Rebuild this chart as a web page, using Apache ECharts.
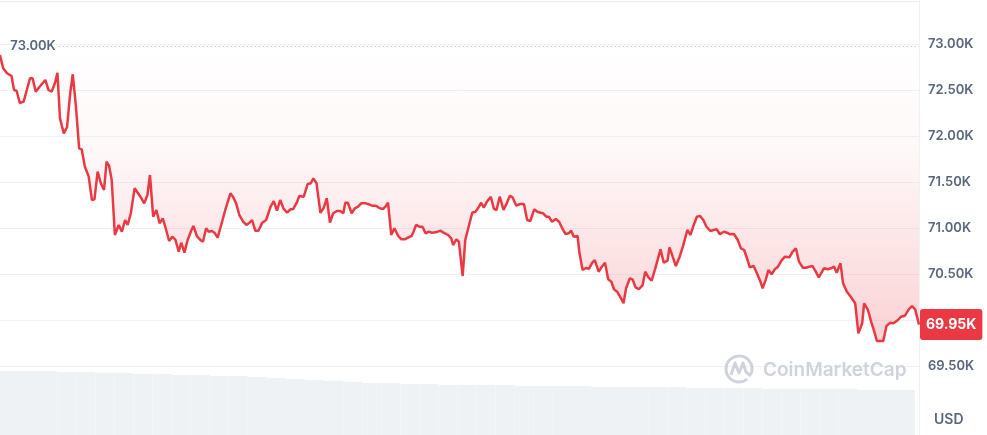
<!DOCTYPE html>
<html>
<head>
<meta charset="utf-8">
<script src="https://cdn.jsdelivr.net/npm/echarts@6/dist/echarts.min.js"></script>
<style>
html,body{margin:0;padding:0;background:#fff;}
#chart{width:987px;height:435px;}
</style>
</head>
<body>
<div id="chart"></div>
<script>
// minutes since start of 24h window
const times = [0,5,11,18,22,26,31,37,42,47,51,56,62,65,71,76,81,86,90,94,100,105,110,114,119,124,128,133,139,144,148,153,158,163,167,171,175,180,
186,191,196,200,205,211,214,220,226,231,235,240,245,250,255,259,265,270,275,280,284,289,294,300,303,309,314,318,323,327,332,336,341,348,353,361,
365,370,375,381,386,391,395,400,405,411,417,424,429,434,439,444,450,455,459,465,469,476,482,487,491,496,502,507,512,517,522,528,533,538,541,
545,551,556,561,566,573,578,583,589,595,600,604,608,613,618,624,629,634,640,645,648,652,657,662,667,672,677,683,690,695,702,707,710,715,719,
725,729,735,740,745,749,754,758,763,769,774,778,783,789,794,799,803,809,815,821,826,831,837,842,847,851,856,860,865,871,876,881,886,891,895,899,905,
908,913,918,923,928,932,938,943,948,953,958,962,967,973,977,981,987,991,996,1001,1007,1011,1016,1021,1026,1035,1040,1046,1049,1054,1059,1065,1070,1077,1082,
1087,1092,1097,1102,1107,1113,1118,1123,1128,1134,1139,1144,1150,1156,1161,1166,1171,1175,1181,1186,1191,1195,1200,1204,1209,1214,1219,1225,1230,1237,1242,1247,1252,1258,1263,
1268,1273,1277,1283,1286,1291,1297,1302,1307,1311,1317,1321,1327,1333,1340,1345,1351,1354,1360,1365,1370,1374,1379,1384,1389,1395,1400,1407,1412,1418,1424,1429,1434,1440];

const prices = [72880,72736,72682,72652,72500,72492,72359,72373,72500,72627,72627,72482,72536,72536,72609,72500,72482,72573,72688,72192,72029,72095,72464,72671,72318,71866,71855,71666,71558,71304,71312,71612,71486,71413,71721,71674,71522,70924,
71033,70960,71087,71033,71160,71432,71413,71340,71268,71359,71576,71123,71196,71051,71105,71014,70859,70905,70870,70742,70840,70732,70870,70978,71022,70905,70870,70851,70997,70960,70967,70949,70895,71068,71196,71377,
71340,71268,71141,71068,71033,71058,71087,70971,70971,71058,71087,71232,71293,71188,71304,71214,71166,71203,71203,71275,71348,71340,71478,71486,71540,71486,71166,71214,71323,71058,71160,71185,71185,71160,71275,
71275,71160,71214,71232,71268,71268,71258,71242,71242,71214,71207,71232,71275,70924,70997,70913,70877,70877,70899,70913,70960,71033,71014,71014,70942,70960,70949,70953,70971,70949,70924,70888,70815,70877,70851,
70478,70870,71033,71166,71177,71214,71275,71221,71286,71340,71207,71196,71340,71196,71268,71351,71334,71242,71261,71261,71087,71076,71203,71177,71166,71160,71123,71123,71068,71098,71068,70997,70935,70942,70971,70905,70913,
70725,70543,70565,70558,70623,70652,70525,70579,70623,70442,70416,70334,70308,70236,70182,70345,70453,70442,70355,70334,70380,70525,70464,70427,70543,70768,70623,70645,70790,70688,70587,70688,70797,70978,70924,
71033,71123,71130,71087,71014,70967,70978,70986,70932,70960,70949,70932,70935,70870,70779,70761,70660,70573,70587,70508,70427,70345,70442,70543,70497,70551,70579,70652,70688,70682,70742,70779,70634,70568,70568,
70579,70587,70543,70464,70471,70562,70551,70562,70579,70514,70616,70399,70308,70253,70182,69855,69964,70182,70109,69982,69873,69772,69772,69772,69935,69971,69964,70000,70036,70047,70116,70152,70116,69950];

// 24h volume (billions USD), one value per 30 minutes
const volume = [32.0,32.0,32.0,31.5,31.5,31.0,31.0,30.5,30.5,30.0,30.0,29.5,29.5,29.0,28.5,28.0,27.5,27.0,26.5,26.0,26.0,25.5,25.5,25.0,25.0,25.0,25.0,24.5,24.5,24.5,24.5,24.0,24.0,24.0,24.0,24.0,23.5,23.5,23.5,23.5,23.0,23.0,23.0,23.0,23.0,22.5,22.5,22.5];
const volumeCats = volume.map((_, i) => i);

const yTicks = [69500, 70000, 70500, 71000, 71500, 72000, 72500, 73000];
const refPrice = 72980;
const refLabel = '73.00K';
const currency = 'USD';
const lastPrice = prices[prices.length - 1];

const fmtK = v => (v / 1000).toFixed(2) + 'K';
const FONT = 'Inter, "Noto Sans", sans-serif';
const RED = '#ea3943';
const GREY_TXT = '#58667e';

const chart = echarts.init(document.getElementById('chart'), null, {renderer: 'canvas'});
chart.setOption({
  animation: false,
  backgroundColor: '#ffffff',
  textStyle: {fontFamily: FONT},
  title: {
    text: currency, left: 934, top: 413, padding: 0,
    textStyle: {color: GREY_TXT, fontSize: 14, fontWeight: 600, fontFamily: FONT}
  },
  grid: [
    {left: 0, right: 68, top: 44, bottom: 69, containLabel: false, outerBoundsMode: 'none'},
    {left: 0, right: 72, top: 370, bottom: 0, containLabel: false, outerBoundsMode: 'none'}
  ],
  xAxis: [
    {type: 'value', gridIndex: 0, min: 0, max: 1440, show: false},
    {type: 'category', gridIndex: 1, data: volumeCats, show: false, boundaryGap: true}
  ],
  yAxis: [
    {
      type: 'value', gridIndex: 0, position: 'right',
      min: yTicks[0], max: yTicks[yTicks.length - 1], interval: 500,
      axisLine: {show: false}, axisTick: {show: false},
      splitLine: {show: true, lineStyle: {color: '#eff2f5', width: 1}},
      axisLabel: {
        margin: 9, color: GREY_TXT, fontSize: 13, fontWeight: 600, fontFamily: FONT,
        formatter: v => (v === 70000 ? '' : fmtK(v))
      }
    },
    {type: 'value', gridIndex: 1, min: 0, max: 32.5, show: false}
  ],
  series: [
    {
      type: 'bar', xAxisIndex: 1, yAxisIndex: 1, data: volume,
      barCategoryGap: '0%', silent: true,
      itemStyle: {color: '#eff2f5'}, z: 1
    },
    {
      type: 'line', xAxisIndex: 0, yAxisIndex: 0,
      data: times.map((t, i) => [t, prices[i]]),
      showSymbol: false, symbol: 'none', smooth: false,
      lineStyle: {color: RED, width: 2.5},
      areaStyle: {
        origin: refPrice,
        color: new echarts.graphic.LinearGradient(0, 0, 0, 1, [
          {offset: 0, color: 'rgba(234,57,67,0.0)'},
          {offset: 0.35, color: 'rgba(234,57,67,0.05)'},
          {offset: 1, color: 'rgba(234,57,67,0.32)'}
        ])
      },
      z: 3,
      markLine: {
        silent: true, symbol: ['none', 'none'], animation: false,
        data: [
          [
            {coord: [92, refPrice],
             lineStyle: {type: [1, 3], color: '#a6b0c3', width: 1},
             label: {show: true, position: 'start', distance: 3, formatter: refLabel,
                     color: GREY_TXT, fontSize: 13, fontWeight: 600, fontFamily: FONT}},
            {coord: [1440, refPrice]}
          ],
          {
            yAxis: lastPrice,
            lineStyle: {color: 'rgba(255,255,255,0)', width: 1},
            label: {show: true, position: 'end', distance: 1, formatter: fmtK(lastPrice),
                    color: '#ffffff', backgroundColor: RED, borderRadius: 3,
                    padding: [9, 6, 8, 6], fontSize: 14, fontWeight: 700, fontFamily: FONT}
          }
        ]
      }
    }
  ],
  graphic: [
    {type: 'line', shape: {x1: 0, y1: 1.5, x2: 919, y2: 1.5}, style: {stroke: '#e8ebf0', lineWidth: 1}, silent: true},
    {type: 'line', shape: {x1: 919.5, y1: 0, x2: 919.5, y2: 435}, style: {stroke: '#eff2f5', lineWidth: 1}, silent: true},
    {type: 'arc', shape: {cx: 739, cy: 369, r: 13, startAngle: 0.9, endAngle: 0.9 + Math.PI * 1.85}, style: {stroke: '#cfd4dc', lineWidth: 3, fill: null}, silent: true, z: 10},
    {type: 'polyline', shape: {points: [[731, 375], [735, 363], [739, 373], [743, 363], [746, 372], [751, 376]]}, style: {stroke: '#cfd4dc', lineWidth: 3, fill: null, lineJoin: 'round'}, silent: true, z: 10},
    {type: 'text', x: 763, y: 370, style: {text: 'CoinMarketCap', fill: '#cfd4dc', font: '600 19px ' + FONT, verticalAlign: 'middle'}, silent: true, z: 10}
  ]
});
</script>
</body>
</html>
